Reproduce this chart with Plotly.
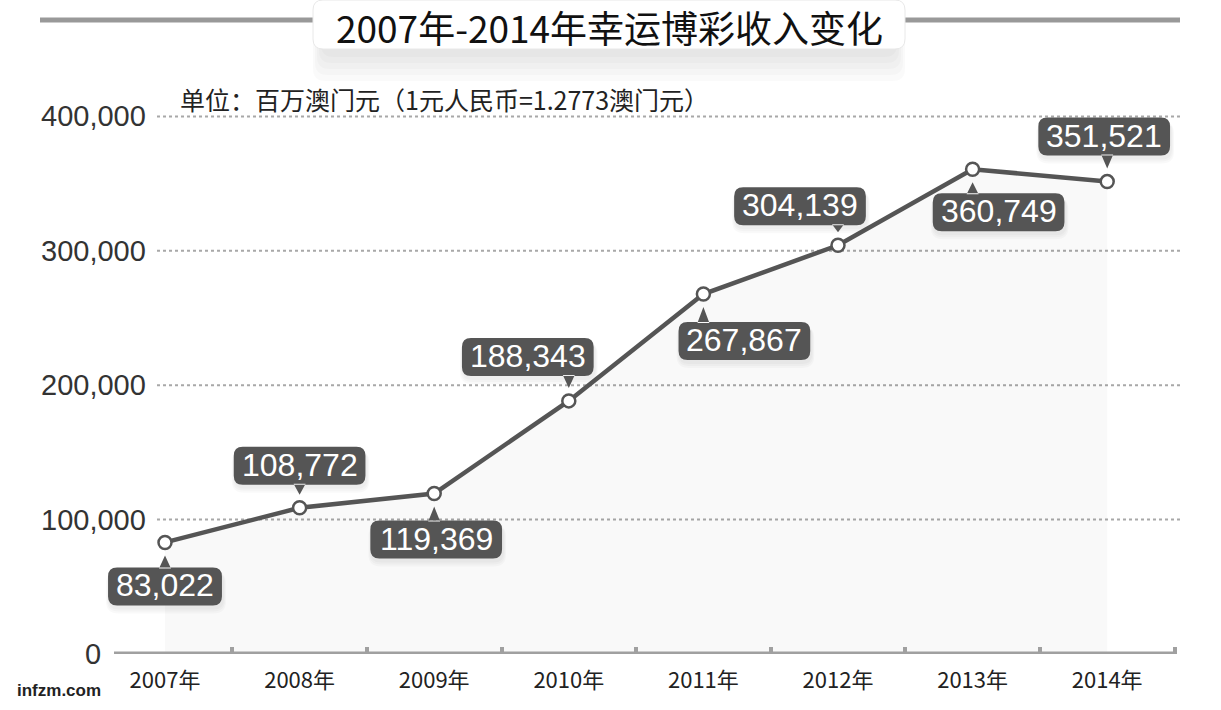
import plotly.graph_objects as go

years = ['2007年', '2008年', '2009年', '2010年', '2011年', '2012年', '2013年', '2014年']
revenue = [83022, 108772, 119369, 188343, 267867, 304139, 360749, 351521]
y_ticks = [0, 100000, 200000, 300000, 400000]

title_text = '2007年-2014年幸运博彩收入变化'
unit_text = '单位：百万澳门元（1元人民币=1.2773澳门元）'

# label box offsets in pixels relative to each point (up is positive)
label_dx = [0, 0, 2, -41, 41, -38, 26, -3]
label_dy = [-44, 42, -46, 44, -47, 39, -43, 45]

# body margin is removed below, so figure pixels == screenshot pixels
W, H = 1221, 710
L, R, T, B = 100, 1180, 103, 654   # plot area


def px2x(p):
    return (p - L) / (R - L)


def px2y(p):
    return (B - p) / (B - T)


def rounded_rect(x0, y0, x1, y1, r):
    return (f'M{x0+r},{y0} L{x1-r},{y0} Q{x1},{y0} {x1},{y0+r} '
            f'L{x1},{y1-r} Q{x1},{y1} {x1-r},{y1} L{x0+r},{y1} '
            f'Q{x0},{y1} {x0},{y1-r} L{x0},{y0+r} Q{x0},{y0} {x0+r},{y0} Z')


fig = go.Figure()

fig.add_trace(go.Scatter(
    x=years, y=revenue, mode='lines+markers',
    line=dict(color='#555555', width=4.5),
    marker=dict(size=13, color='white', line=dict(color='#555555', width=2.5)),
    fill='tozeroy', fillcolor='rgba(0,0,0,0.025)',
    hoverinfo='skip'
))

shapes = []
annotations = []

# dotted grid lines (start right of the tick labels)
for t in y_ticks[1:]:
    shapes.append(dict(type='line', xref='paper', yref='y', x0=px2x(157), x1=px2x(1180), y0=t, y1=t,
                       line=dict(color='#a8a8a8', width=2, dash='dot'), layer='below'))
    annotations.append(dict(x=px2x(148), y=t, xref='paper', yref='y', text=f'{t:,}',
                            showarrow=False, xanchor='right', yanchor='middle',
                            font=dict(family='Liberation Sans, Arial', size=29, color='#333333')))
annotations.append(dict(x=px2x(103), y=0, xref='paper', yref='y', text='0',
                        showarrow=False, xanchor='right', yanchor='middle',
                        font=dict(family='Liberation Sans, Arial', size=29, color='#333333')))

# data labels: rounded dark boxes with a pointer
for i, (yr, v) in enumerate(zip(years, revenue)):
    txt = f'{v:,}'
    ndig = len(txt.replace(',', ''))
    w = ndig * 17.8 + 8.9 + 16
    h = 38
    cx, cy = label_dx[i], label_dy[i]
    x0, x1 = cx - w / 2, cx + w / 2
    y0, y1 = cy - h / 2, cy + h / 2
    path = rounded_rect(x0, y0, x1, y1, 9)
    if cy > 0:
        path += f' M-6,{y0+1} L0,13 L6,{y0+1} Z'
    else:
        path += f' M-6,{y1-1} L0,-13 L6,{y1-1} Z'
    # soft shadow
    for k in range(3):
        shapes.append(dict(type='path', xref='x', yref='y', xsizemode='pixel', ysizemode='pixel',
                           xanchor=i, yanchor=v,
                           path=rounded_rect(x0 - k, y0 - 4 - 2 * k, x1 + 2 + k, y1 - 4, 10 + k),
                           fillcolor='rgba(0,0,0,0.025)', line=dict(width=0), layer='above'))
    shapes.append(dict(type='path', xref='x', yref='y', xsizemode='pixel', ysizemode='pixel',
                       xanchor=i, yanchor=v, path=path,
                       fillcolor='#555555', line=dict(width=0), layer='above'))
    annotations.append(dict(x=yr, y=v, xref='x', yref='y', text=txt, showarrow=False,
                            xshift=cx, yshift=cy + 1,
                            font=dict(family='Liberation Sans, Arial', size=32, color='white')))

# x axis baseline
shapes.append(dict(type='line', xref='paper', yref='y', x0=px2x(114), x1=px2x(1177), y0=0, y1=0,
                   line=dict(color='#a0a0a0', width=5), layer='above'))

# title bar
shapes.append(dict(type='line', xref='paper', yref='paper', x0=px2x(40), x1=px2x(1180),
                   y0=px2y(20), y1=px2y(20), line=dict(color='#999999', width=5), layer='above'))
for k in range(5):
    shapes.append(dict(type='path', xref='paper', yref='paper', xsizemode='pixel', ysizemode='pixel',
                       xanchor=px2x(313), yanchor=px2y(49),
                       path=rounded_rect(8 - k * 2, -8 - k * 6, 584 + k * 2, 40, 12),
                       fillcolor='rgba(0,0,0,0.018)', line=dict(width=0), layer='above'))
shapes.append(dict(type='path', xref='paper', yref='paper', xsizemode='pixel', ysizemode='pixel',
                   xanchor=px2x(313), yanchor=px2y(49),
                   path=rounded_rect(0, 0, 592, 49, 10),
                   fillcolor='white', line=dict(color='#e8e8e8', width=1), layer='above'))

annotations.append(dict(x=px2x(609), y=px2y(27), xref='paper', yref='paper', text=title_text,
                        showarrow=False, xanchor='center', yanchor='middle',
                        font=dict(family='Noto Sans CJK SC', size=37, color='#111111')))
annotations.append(dict(x=px2x(178), y=px2y(99), xref='paper', yref='paper', text=unit_text,
                        showarrow=False, xanchor='left', yanchor='middle',
                        font=dict(family='Noto Sans CJK SC', size=25, color='#222222')))
annotations.append(dict(x=px2x(15), y=px2y(690), xref='paper', yref='paper', text='<b>infzm.com</b>',
                        showarrow=False, xanchor='left', yanchor='middle',
                        font=dict(family='Liberation Sans, Arial', size=17, color='#222222')))

fig.update_xaxes(
    type='category', range=[-(165 - L) / 134.6, (R - 165) / 134.6],
    showgrid=False, showline=False, zeroline=False,
    tickson='boundaries', ticks='inside', ticklen=7, tickwidth=4, tickcolor='#a0a0a0',
    tickfont=dict(family='Noto Sans CJK SC', size=22, color='#222222'),
    ticklabelstandoff=11
)
fig.update_yaxes(
    range=[0, 410000], showgrid=False, zeroline=False, showline=False,
    ticks='', showticklabels=False
)

fig.update_layout(
    width=W, height=H,
    margin={'l': L, 'r': W - R, 't': T, 'b': H - B},
    plot_bgcolor='white', paper_bgcolor='white',
    showlegend=False, hovermode=False,
    shapes=shapes, annotations=annotations
)

fig.write_html('out.html', config={'displayModeBar': False},
               post_script="document.body.style.margin='0';")
